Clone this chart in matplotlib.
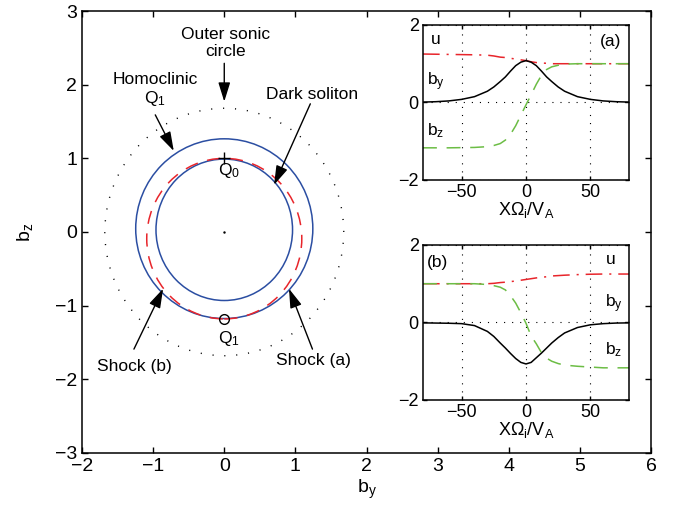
import matplotlib
matplotlib.use('Agg')
import matplotlib.pyplot as plt
from matplotlib.patches import Circle, Ellipse

plt.rcParams['font.family'] = ['Liberation Sans', 'DejaVu Sans']
plt.rcParams['mathtext.default'] = 'regular'
plt.rcParams['lines.scale_dashes'] = False
plt.rcParams['axes.linewidth'] = 1.1

# ---- phase plane (b_y, b_z): curves ----
sonic_r = 1.68                       # outer sonic circle, centred at origin
inner_c, inner_r = (0.0, 0.03), 0.96  # inner blue curve
outer_c, outer_w, outer_h = (0.0, 0.045), 2.49, 2.44  # outer blue curve (homoclinic)
shock_c, shock_r = (0.0, -0.09), 1.09  # red dashed shock path
Q0 = (0.0, 1.0)
Q1 = (0.0, -1.18)

# ---- profiles in the two insets ----
x_prof = [-80, -70, -60, -50, -40, -30, -25, -20, -16, -12, -8, -4, 0,
          4, 8, 12, 16, 20, 25, 30, 40, 50, 60, 70, 80]
u_a = [1.25, 1.245, 1.24, 1.235, 1.23, 1.22, 1.2, 1.17, 1.16, 1.14, 1.12, 1.1, 1.08,
       1.05, 1.03, 1.02, 1.01, 1.0, 1.0, 1.0, 1.0, 1.0, 1.0, 1.0, 1.0]
by_a = [0.01, 0.02, 0.04, 0.08, 0.15, 0.29, 0.4, 0.54, 0.66, 0.81, 0.95, 1.04, 1.08,
        1.04, 0.95, 0.81, 0.66, 0.54, 0.4, 0.29, 0.15, 0.08, 0.04, 0.02, 0.01]
bz_a = [-1.17, -1.17, -1.17, -1.165, -1.16, -1.14, -1.11, -1.06, -0.97, -0.82, -0.6, -0.33, -0.06,
        0.2, 0.47, 0.7, 0.85, 0.92, 0.96, 0.99, 1.0, 1.0, 1.0, 1.0, 1.0]
u_b = [1.0, 1.0, 1.0, 1.0, 1.0, 1.0, 1.01, 1.03, 1.04, 1.055, 1.07, 1.09, 1.11,
       1.13, 1.15, 1.165, 1.18, 1.2, 1.21, 1.22, 1.235, 1.245, 1.25, 1.25, 1.25]
by_b = [-0.01, -0.015, -0.02, -0.03, -0.08, -0.23, -0.36, -0.53, -0.66, -0.8, -0.93, -1.03, -1.07,
        -1.03, -0.91, -0.79, -0.66, -0.53, -0.39, -0.27, -0.13, -0.06, -0.03, -0.015, -0.01]
bz_b = [1.0, 1.0, 1.0, 1.0, 1.0, 0.98, 0.95, 0.91, 0.84, 0.69, 0.5, 0.25, -0.02,
        -0.35, -0.55, -0.78, -0.92, -1.0, -1.06, -1.1, -1.13, -1.15, -1.17, -1.17, -1.17]

blue = '#2b4ea2'
red = '#e8252b'
green = '#6cbd45'

fig = plt.figure(figsize=(6.84, 5.19), dpi=100)
ax = fig.add_axes([0.1199, 0.1272, 0.8319, 0.8516])

ax.add_patch(Circle((0, 0), sonic_r, fill=False, color='k', lw=1.0,
                    linestyle=(0, (0.8, 7.8))))
ax.add_patch(Ellipse(outer_c, outer_w, outer_h, fill=False, color=blue, lw=1.1))
ax.add_patch(Circle(inner_c, inner_r, fill=False, color=blue, lw=1.1))
ax.add_patch(Circle(shock_c, shock_r, fill=False, color=red, lw=1.1,
                    linestyle=(0, (9.5, 7))))
ax.plot(*Q0, marker='+', color='k', ms=8, mew=1.0)
ax.plot(*Q1, marker='o', mfc='none', mec='k', ms=7, mew=1.0)
ax.plot(0, 0, marker='.', color='k', ms=1.5)

ax.set_xlim(-2, 6)
ax.set_ylim(-3, 3)
ax.set_xticks(range(-2, 7))
ax.set_yticks(range(-3, 4))
ax.tick_params(direction='in', top=True, right=True, length=4, width=1.0, labelsize=14)
ax.set_xlabel('b$_y$', fontsize=14, labelpad=2)
ax.set_ylabel('b$_z$', fontsize=14, labelpad=14)

fs = 12.5
ax.text(0.02, 2.57, 'Outer sonic\ncircle', ha='center', va='center', fontsize=fs, linespacing=1.15)
ax.text(-0.975, 1.93, 'Homoclinic\nQ$_1$', ha='center', va='center', fontsize=fs, linespacing=1.15)
ax.text(1.24, 1.86, 'Dark soliton', ha='center', va='center', fontsize=fs)
ax.text(0.06, 0.83, 'Q$_0$', ha='center', va='center', fontsize=fs)
ax.text(0.06, -1.45, 'Q$_1$', ha='center', va='center', fontsize=fs)
ax.text(-1.27, -1.83, 'Shock (b)', ha='center', va='center', fontsize=fs)
ax.text(1.26, -1.74, 'Shock (a)', ha='center', va='center', fontsize=fs)

arrows = [((0.0, 2.29), (0.0, 1.77)),
          ((-0.97, 1.59), (-0.71, 1.10)),
          ((1.21, 1.74), (0.70, 0.64)),
          ((-1.27, -1.59), (-0.86, -0.77)),
          ((1.24, -1.59), (0.91, -0.77))]
for tail, head in arrows:
    ax.annotate('', xy=head, xytext=tail,
                arrowprops=dict(arrowstyle='-|>,head_length=0.9,head_width=0.28',
                                color='k', lw=1.0, mutation_scale=13,
                                shrinkA=0, shrinkB=0))


def inset(rect, u, by, bz, labels):
    ia = fig.add_axes(rect)
    ia.plot(x_prof, u, color=red, lw=1.1, linestyle=(0, (12, 5, 1.5, 5)))
    ia.plot(x_prof, by, color='k', lw=1.1)
    ia.plot(x_prof, bz, color=green, lw=1.1, linestyle=(0, (10, 7)))
    ia.set_xlim(-80, 80)
    ia.set_ylim(-2, 2)
    ia.set_xticks([-50, 0, 50])
    ia.set_yticks([-2, 0, 2])
    ia.grid(True, color='k', lw=0.8, linestyle=(0, (0.8, 5)))
    ia.tick_params(direction='in', top=True, right=True, length=3, width=1.0, labelsize=13, pad=3)
    ia.set_xlabel('XΩ$_i$/V$_A$', fontsize=13, labelpad=-1)
    for x, y, s, ha in labels:
        ia.text(x, y, s, ha=ha, va='baseline', fontsize=12.5)
    return ia


inset([0.6184, 0.6532, 0.3012, 0.2987], u_a, by_a, bz_a,
      [(-74, 1.51, 'u', 'left'), (-77, 0.44, 'b$_y$', 'left'),
       (-77, -0.85, 'b$_z$', 'left'), (66, 1.47, '(a)', 'center')])
inset([0.6184, 0.2293, 0.3012, 0.2987], u_b, by_b, bz_b,
      [(-69, 1.43, '(b)', 'center'), (61.7, 1.51, 'u', 'left'),
       (61.7, 0.40, 'b$_y$', 'left'), (61.7, -0.81, 'b$_z$', 'left')])

fig.savefig('out.png', dpi=100)
